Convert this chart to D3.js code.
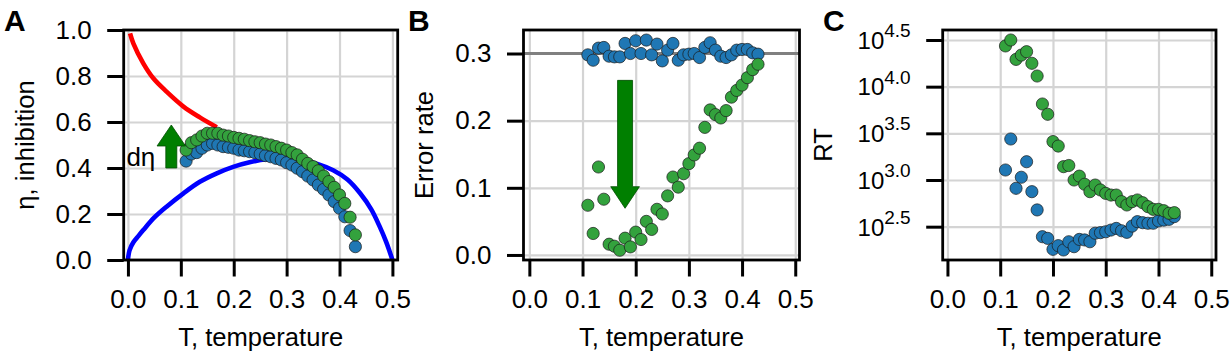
<!DOCTYPE html>
<html>
<head>
<meta charset="utf-8">
<script src="https://cdn.jsdelivr.net/npm/d3@7"></script>
<style>
body { margin: 0; background: #fff; }
text { font-family: "Liberation Sans", Arial, Helvetica, sans-serif; fill: #000; }
</style>
</head>
<body>
<svg id="fig"></svg>
<script>
//data
const temps = [0.11, 0.12, 0.13, 0.14, 0.15, 0.16, 0.17, 0.18, 0.19, 0.20, 0.21,
               0.22, 0.23, 0.24, 0.25, 0.26, 0.27, 0.28, 0.29, 0.30, 0.31, 0.32,
               0.33, 0.34, 0.35, 0.36, 0.37, 0.38, 0.39, 0.40, 0.41, 0.42, 0.43];

// panel A: inhibition, before (blue) and after (green)
const etaBase = [0.430, 0.461, 0.467, 0.486, 0.500, 0.507, 0.500, 0.493, 0.490, 0.486, 0.478,
                 0.475, 0.471, 0.467, 0.461, 0.454, 0.449, 0.442, 0.435, 0.423, 0.413, 0.399,
                 0.384, 0.365, 0.348, 0.326, 0.307, 0.283, 0.254, 0.225, 0.188, 0.128, 0.058];
const etaBoost = [0.478, 0.510, 0.522, 0.539, 0.551, 0.551, 0.551, 0.543, 0.539, 0.533, 0.529,
                  0.525, 0.519, 0.514, 0.510, 0.504, 0.500, 0.493, 0.486, 0.478, 0.467, 0.457,
                  0.438, 0.420, 0.406, 0.388, 0.365, 0.341, 0.316, 0.283, 0.246, 0.186, 0.109];
// theory curves [T, eta]
const redCurve = [[0.004, 0.985], [0.0102, 0.942], [0.029, 0.855], [0.048, 0.79], [0.073, 0.732],
                  [0.105, 0.667], [0.136, 0.62], [0.168, 0.577]];
const blueCurve = [[0.0, 0.0], [0.003, 0.042], [0.01, 0.076], [0.02, 0.105], [0.029, 0.13],
                   [0.05, 0.185], [0.073, 0.232], [0.105, 0.29], [0.136, 0.34], [0.168, 0.377],
                   [0.199, 0.405], [0.23, 0.425], [0.262, 0.438], [0.295, 0.441], [0.325, 0.435],
                   [0.358, 0.418], [0.388, 0.39], [0.415, 0.35], [0.439, 0.29], [0.46, 0.22],
                   [0.476, 0.145], [0.488, 0.08], [0.495, 0.035], [0.5, 0.0]];

// panel B: error rate
const errBase = [0.298, 0.290, 0.308, 0.309, 0.296, 0.295, 0.295, 0.315, 0.300, 0.319, 0.300,
                 0.320, 0.298, 0.314, 0.289, 0.305, 0.315, 0.290, 0.298, 0.299, 0.300, 0.294,
                 0.309, 0.316, 0.305, 0.296, 0.294, 0.298, 0.305, 0.306, 0.306, 0.301, 0.299];
const errBoost = [0.074, 0.032, 0.131, 0.083, 0.016, 0.013, 0.007, 0.025, 0.012, 0.034, 0.023,
                  0.050, 0.038, 0.068, 0.061, 0.088, 0.116, 0.101, 0.121, 0.136, 0.149, 0.159,
                  0.190, 0.216, 0.209, 0.204, 0.215, 0.235, 0.245, 0.253, 0.264, 0.276, 0.284];
const errChance = 0.3;

// panel C: reaction time
const rtBase = [1280, 2750, 815, 1070, 1570, 750, 478, 247, 237, 181, 198,
                178, 218, 193, 231, 228, 218, 269, 273, 279, 291, 303,
                286, 275, 321, 358, 349, 344, 344, 364, 372, 379, 405];
const rtBoost = [27300, 31600, 19600, 21800, 23700, 17800, 13000, 6520, 5060, 2580, 2310,
                 1390, 1430, 1000, 1100, 900, 750, 883, 782, 719, 690, 690,
                 586, 540, 586, 611, 571, 518, 485, 485, 469, 440, 447];

// ticks
const xTicks = [0, 0.1, 0.2, 0.3, 0.4, 0.5];
const etaTicks = [0, 0.2, 0.4, 0.6, 0.8, 1.0];
const errTicks = [0, 0.1, 0.2, 0.3];
const rtTickExps = ["2.5", "3.0", "3.5", "4.0", "4.5"];

//constants
const W = 1232, H = 364;
const plotTop = 30, plotBottom = 260;
const tickLen = 16.5;
const blueFill = "#1f77b4", greenFill = "#33a23d";
const dotR = 6.1;

const svg = d3.select("#fig")
    .attr("width", W)
    .attr("height", H)
    .style("background-color", "#fff");

//draws frame, grid, ticks; returns groups
function makePanel(id, left, right, xDomain, yScale, yTicks, yFmt, yLabel, yLabelOff, letterX) {
    const x = d3.scaleLinear().domain(xDomain).range([left, right]);
    const g = svg.append("g").attr("class", "panel-" + id);

    //clip
    svg.append("defs").append("clipPath")
        .attr("id", "clip" + id)
        .append("rect")
        .attr("x", left).attr("y", plotTop)
        .attr("width", right - left).attr("height", plotBottom - plotTop);

    //grid
    g.append("g")
        .attr("class", "grid")
        .attr("transform", "translate(0," + plotBottom + ")")
        .call(d3.axisBottom(x).tickValues(xTicks).tickSize(-(plotBottom - plotTop)).tickFormat(""))
        .call(s => s.select(".domain").remove())
        .selectAll("line").attr("stroke", "#d4d4d4").attr("stroke-width", 2.2);

    g.append("g")
        .attr("class", "grid")
        .attr("transform", "translate(" + left + ",0)")
        .call(d3.axisLeft(yScale).tickValues(yTicks).tickSize(-(right - left)).tickFormat(""))
        .call(s => s.select(".domain").remove())
        .selectAll("line").attr("stroke", "#d4d4d4").attr("stroke-width", 2.2);

    const data = g.append("g").attr("class", "data");
    const over = svg.append("g").attr("class", "over");

    //frame
    over.append("rect")
        .attr("x", left).attr("y", plotTop)
        .attr("width", right - left).attr("height", plotBottom - plotTop)
        .attr("fill", "none").attr("stroke", "#000").attr("stroke-width", 2.8);

    //axes
    const gx = over.append("g")
        .attr("transform", "translate(0," + plotBottom + ")")
        .call(d3.axisBottom(x).tickValues(xTicks).tickSize(tickLen).tickPadding(13.5)
            .tickFormat(d3.format(".1f")));
    gx.select(".domain").remove();
    gx.selectAll("line").attr("stroke", "#000").attr("stroke-width", 3);
    gx.selectAll("text").style("font-size", "26px")
        .style("font-family", "'Liberation Sans', Arial, sans-serif");

    const gy = over.append("g")
        .attr("transform", "translate(" + left + ",0)")
        .call(d3.axisLeft(yScale).tickValues(yTicks).tickSize(tickLen).tickPadding(15.5)
            .tickFormat(yFmt));
    gy.select(".domain").remove();
    gy.selectAll("line").attr("stroke", "#000").attr("stroke-width", 3);
    gy.selectAll("text").style("font-size", "26px")
        .style("font-family", "'Liberation Sans', Arial, sans-serif");

    //axis labels
    over.append("text")
        .attr("x", (left + right) / 2)
        .attr("y", 346)
        .style("text-anchor", "middle")
        .style("font-size", "25.6px")
        .text("T, temperature");

    over.append("text")
        .attr("transform", "translate(" + (left - yLabelOff) + "," + ((plotTop + plotBottom) / 2) + ") rotate(-90)")
        .style("text-anchor", "middle")
        .style("font-size", "25.6px")
        .text(yLabel);

    //panel letter
    over.append("text")
        .attr("x", letterX).attr("y", 31)
        .style("font-size", "30px")
        .style("font-weight", "bold")
        .text(id);

    return {x: x, g: data, gy: gy, over: over};
}

function dots(g, x, y, vals, fill) {
    g.append("g").selectAll("circle")
        .data(vals)
        .enter()
        .append("circle")
        .attr("cx", (d, i) => x(temps[i]))
        .attr("cy", d => y(d))
        .attr("r", dotR)
        .attr("fill", fill)
        .attr("stroke", "#1a1a1a")
        .attr("stroke-width", 0.7);
}

//vertical block arrow from (px, y0) to (px, y1)
function arrow(g, px, y0, y1, shaftW, headW, headL) {
    const dir = y1 < y0 ? -1 : 1;
    const hb = y1 - dir * headL;
    const pts = [
        [px - shaftW / 2, y0], [px - shaftW / 2, hb], [px - headW / 2, hb],
        [px, y1], [px + headW / 2, hb], [px + shaftW / 2, hb], [px + shaftW / 2, y0]
    ];
    g.append("path")
        .attr("d", d3.line()(pts) + "Z")
        .attr("fill", "#007f00")
        .attr("stroke", "#004d00")
        .attr("stroke-width", 0.8);
}

//panel A
const yA = d3.scaleLinear().domain([0, 1]).range([plotBottom, plotTop]);
const pA = makePanel("A", 123.7, 397.7, [-0.008, 0.51], yA, etaTicks, d3.format(".1f"),
    "η, inhibition", 90, 4);

const curveLine = d3.line().x(d => pA.x(d[0])).y(d => yA(d[1])).curve(d3.curveCatmullRom.alpha(0.5));
const curves = pA.g.append("g").attr("clip-path", "url(#clipA)");
curves.append("path").datum(redCurve)
    .attr("d", curveLine).attr("fill", "none").attr("stroke", "#ff0000").attr("stroke-width", 4.6);
curves.append("path").datum(blueCurve)
    .attr("d", curveLine).attr("fill", "none").attr("stroke", "#0000ff").attr("stroke-width", 4.6);

dots(pA.g, pA.x, yA, etaBase, blueFill);
dots(pA.g, pA.x, yA, etaBoost, greenFill);

arrow(pA.g, pA.x(0.082), yA(0.40), yA(0.587), 11, 28.5, 21);
pA.g.append("text")
    .attr("x", pA.x(0.082) - 16)
    .attr("y", yA(0.41))
    .style("text-anchor", "end")
    .style("font-size", "26px")
    .text("dη");

//panel B
const yB = d3.scaleLinear().domain([-0.0075, 0.335]).range([plotBottom, plotTop]);
const pB = makePanel("B", 523.5, 799.5, [-0.011, 0.508], yB, errTicks, d3.format(".1f"),
    "Error rate", 90.5, 408);

pB.g.append("line")
    .attr("x1", 523.5).attr("x2", 799.5)
    .attr("y1", yB(errChance)).attr("y2", yB(errChance))
    .attr("stroke", "#808080").attr("stroke-width", 3.2);

dots(pB.g, pB.x, yB, errBase, blueFill);
dots(pB.g, pB.x, yB, errBoost, greenFill);

arrow(pB.g, pB.x(0.18), yB(0.26), yB(0.0695), 15, 28.7, 21.6);

//panel C
const yC = d3.scaleLog().domain([Math.pow(10, 2.143), Math.pow(10, 4.607)]).range([plotBottom, plotTop]);
const pC = makePanel("C", 942.7, 1216, [-0.009, 0.509], yC,
    rtTickExps.map(e => Math.pow(10, +e)), d => "", "RT", 110.5, 823);

pC.gy.selectAll(".tick text")
    .each(function(d, i) {
        const t = d3.select(this);
        t.attr("x", -(tickLen + 15.5)).attr("dy", "0.32em");
        t.append("tspan").style("font-size", "24px").text("10");
        t.append("tspan").attr("dy", "-0.62em").style("font-size", "19px").text(rtTickExps[i]);
    });

dots(pC.g, pC.x, yC, rtBase, blueFill);
dots(pC.g, pC.x, yC, rtBoost, greenFill);
</script>
</body>
</html>
